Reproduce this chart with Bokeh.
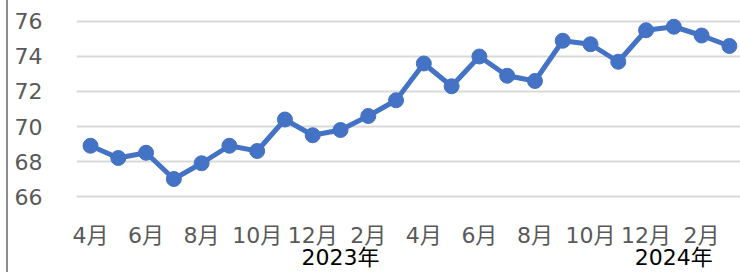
from bokeh.plotting import figure
from bokeh.models import FixedTicker, Range1d, ColumnDataSource, LinearAxis
from bokeh.embed import file_html
from bokeh.resources import INLINE

# ---- data ----
months = ["4月", "5月", "6月", "7月", "8月", "9月", "10月", "11月", "12月",
          "1月", "2月", "3月", "4月", "5月", "6月", "7月", "8月", "9月",
          "10月", "11月", "12月", "1月", "2月", "3月"]
year_labels = ["", "", "", "", "", "", "", "", "",
               "2023年", "", "", "", "", "", "", "", "", "", "", "",
               "2024年", "", ""]
values = [68.9, 68.2, 68.5, 67.0, 67.9, 68.9, 68.6, 70.4, 69.5,
          69.8, 70.6, 71.5, 73.6, 72.3, 74.0, 72.9, 72.6, 74.9,
          74.7, 73.7, 75.5, 75.7, 75.2, 74.6]
y_ticks = [66, 68, 70, 72, 74, 76]

idx = list(range(len(months)))
src = ColumnDataSource(data=dict(x=idx, y=values))

FONT = "'DejaVu Sans', 'Noto Sans CJK JP', sans-serif"
GRAY = "#595959"
FS = "22px"

p = figure(width=740, height=272,
           x_range=Range1d(-0.504, 23.40), y_range=Range1d(65.486, 76.514),
           output_backend="svg", toolbar_location=None,
           min_border_left=76, min_border_right=0,
           min_border_top=12, min_border_bottom=67)
p.outline_line_color = None
p.background_fill_color = "white"
p.border_fill_color = None
p.styles = {"background-color": "white",
            "box-shadow": "inset 6px 0 0 0 white, inset 8px 0 0 0 #8c8c8c"}

def style_axis(ax, color, standoff):
    ax.axis_line_color = None
    ax.major_tick_line_color = None
    ax.minor_tick_line_color = None
    ax.major_label_text_font = FONT
    ax.major_label_text_font_size = FS
    ax.major_label_text_color = color
    ax.major_label_standoff = standoff

# year axis (closest to the frame, pushed down): year under January
year_ticks = [i for i in idx if year_labels[i]]
xy = p.xaxis[0]
xy.ticker = FixedTicker(ticks=year_ticks)
xy.major_label_overrides = {i: year_labels[i] for i in year_ticks}
style_axis(xy, "black", 33)

# month axis: every other month, pulled back up
month_ticks = [i for i in idx if i % 2 == 0]
xa = LinearAxis(ticker=FixedTicker(ticks=month_ticks),
                major_label_overrides={i: months[i] for i in month_ticks})
style_axis(xa, GRAY, -56)
p.add_layout(xa, "below")

# y axis
ya = p.yaxis[0]
ya.ticker = FixedTicker(ticks=y_ticks)
style_axis(ya, GRAY, 28)

p.xgrid.grid_line_color = None
p.ygrid.ticker = FixedTicker(ticks=y_ticks)
p.ygrid.grid_line_color = "#D9D9D9"
p.ygrid.grid_line_width = 2

p.line("x", "y", source=src, line_color="#4472C4", line_width=5)
p.scatter("x", "y", source=src, size=15, fill_color="#4472C4", line_color="#4472C4")

open("out.html", "w").write(file_html(p, INLINE))
